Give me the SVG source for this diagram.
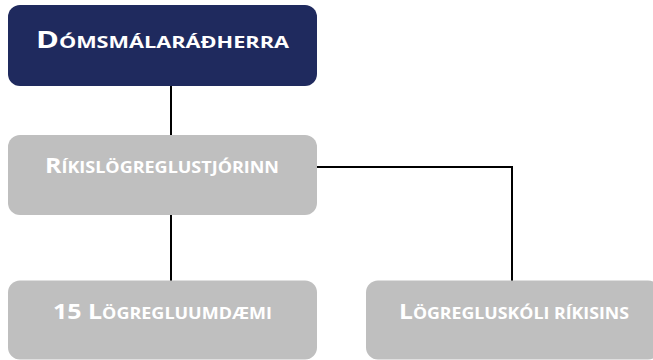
<svg xmlns="http://www.w3.org/2000/svg" width="653" height="360" viewBox="0 0 653 360">
<style>
.box{stroke:none}
.top{fill:#1F2A5E}
.sub{fill:#BFBFBF}
.lbl{font-family:"Open Sans","Liberation Sans",sans-serif;font-weight:bold;fill:#FFFFFF;text-anchor:middle}
.big1{font-size:23.5px}
.sm1{font-size:16.5px}
.big{font-size:21.5px}
.sm{font-size:15.5px}
.conn{fill:none;stroke:#000000;stroke-width:2}
</style>
<rect width="653" height="360" fill="#FFFFFF"/>
<g id="connectors">
<line class="conn" x1="171" y1="86" x2="171" y2="135"/>
<line class="conn" x1="171" y1="215" x2="171" y2="281"/>
<polyline class="conn" points="317,167 512,167 512,281"/>
</g>
<g id="node-domsmalaradherra">
<rect class="box top" x="8" y="5" width="309" height="81" rx="12"/>
<text class="lbl" x="162.5" y="47.5" textLength="253" lengthAdjust="spacingAndGlyphs"><tspan class="big1">D</tspan><tspan class="sm1">ÓMSMÁLARÁÐHERRA</tspan></text>
</g>
<g id="node-rikislogreglustjorinn">
<rect class="box sub" x="8" y="135" width="309" height="80" rx="12"/>
<text class="lbl" x="162" y="172.7" textLength="234" lengthAdjust="spacingAndGlyphs"><tspan class="big">R</tspan><tspan class="sm">ÍKISLÖGREGLUSTJÓRINN</tspan></text>
</g>
<g id="node-logregluumdaemi">
<rect class="box sub" x="8" y="280.5" width="309" height="79" rx="12"/>
<text class="lbl" x="162.5" y="319" textLength="219" lengthAdjust="spacingAndGlyphs"><tspan class="big">15 L</tspan><tspan class="sm">ÖGREGLUUMDÆMI</tspan></text>
</g>
<g id="node-logregluskoli">
<rect class="box sub" x="366" y="280.5" width="294" height="79" rx="12"/>
<text class="lbl" x="514" y="318.7" textLength="230" lengthAdjust="spacingAndGlyphs"><tspan class="big">L</tspan><tspan class="sm">ÖGREGLUSKÓLI RÍKISINS</tspan></text>
</g>
</svg>
